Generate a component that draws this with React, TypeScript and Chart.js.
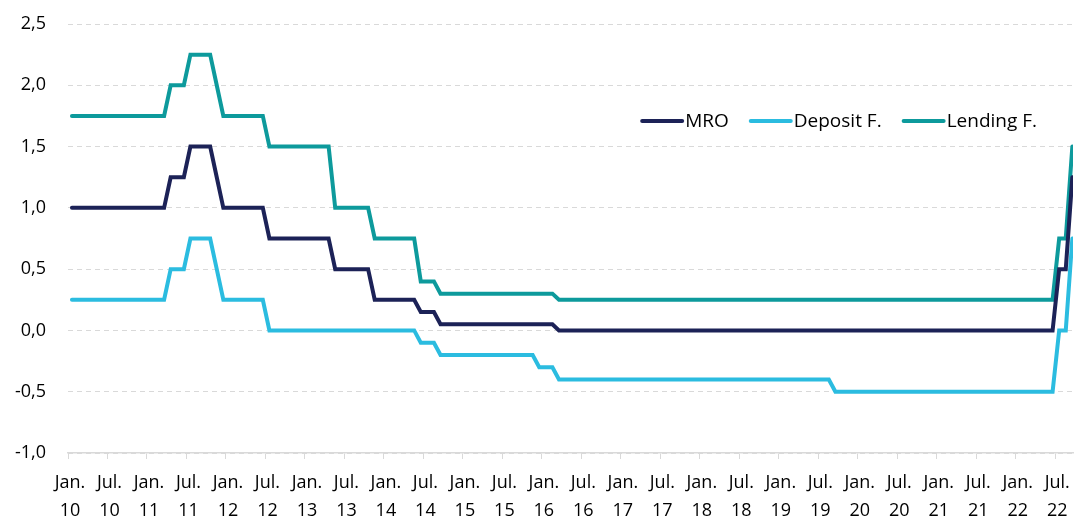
import React, { useEffect, useRef } from 'react';
import { Chart, registerables } from 'chart.js';
Chart.register(...registerables);

// x-axis tick labels (every 6 months, Jan. 2010 … Jul. 2022)
const tickLabels: string[][] = [
  ['Jan.', '10'], ['Jul.', '10'], ['Jan.', '11'], ['Jul.', '11'], ['Jan.', '12'], ['Jul.', '12'],
  ['Jan.', '13'], ['Jul.', '13'], ['Jan.', '14'], ['Jul.', '14'], ['Jan.', '15'], ['Jul.', '15'],
  ['Jan.', '16'], ['Jul.', '16'], ['Jan.', '17'], ['Jul.', '17'], ['Jan.', '18'], ['Jul.', '18'],
  ['Jan.', '19'], ['Jul.', '19'], ['Jan.', '20'], ['Jul.', '20'], ['Jan.', '21'], ['Jul.', '21'],
  ['Jan.', '22'], ['Jul.', '22'],
];

// Monthly values, Jan. 2010 … Sep. 2022 (one row per year)
const mro: number[] = [
  1, 1, 1, 1, 1, 1, 1, 1, 1, 1, 1, 1,
  1, 1, 1, 1.25, 1.25, 1.25, 1.5, 1.5, 1.5, 1.5, 1.25, 1,
  1, 1, 1, 1, 1, 1, 0.75, 0.75, 0.75, 0.75, 0.75, 0.75,
  0.75, 0.75, 0.75, 0.75, 0.5, 0.5, 0.5, 0.5, 0.5, 0.5, 0.25, 0.25,
  0.25, 0.25, 0.25, 0.25, 0.25, 0.15, 0.15, 0.15, 0.05, 0.05, 0.05, 0.05,
  0.05, 0.05, 0.05, 0.05, 0.05, 0.05, 0.05, 0.05, 0.05, 0.05, 0.05, 0.05,
  0.05, 0.05, 0, 0, 0, 0, 0, 0, 0, 0, 0, 0,
  0, 0, 0, 0, 0, 0, 0, 0, 0, 0, 0, 0,
  0, 0, 0, 0, 0, 0, 0, 0, 0, 0, 0, 0,
  0, 0, 0, 0, 0, 0, 0, 0, 0, 0, 0, 0,
  0, 0, 0, 0, 0, 0, 0, 0, 0, 0, 0, 0,
  0, 0, 0, 0, 0, 0, 0, 0, 0, 0, 0, 0,
  0, 0, 0, 0, 0, 0, 0.5, 0.5, 1.25,
];

const deposit: number[] = [
  0.25, 0.25, 0.25, 0.25, 0.25, 0.25, 0.25, 0.25, 0.25, 0.25, 0.25, 0.25,
  0.25, 0.25, 0.25, 0.5, 0.5, 0.5, 0.75, 0.75, 0.75, 0.75, 0.5, 0.25,
  0.25, 0.25, 0.25, 0.25, 0.25, 0.25, 0, 0, 0, 0, 0, 0,
  0, 0, 0, 0, 0, 0, 0, 0, 0, 0, 0, 0,
  0, 0, 0, 0, 0, -0.1, -0.1, -0.1, -0.2, -0.2, -0.2, -0.2,
  -0.2, -0.2, -0.2, -0.2, -0.2, -0.2, -0.2, -0.2, -0.2, -0.2, -0.2, -0.3,
  -0.3, -0.3, -0.4, -0.4, -0.4, -0.4, -0.4, -0.4, -0.4, -0.4, -0.4, -0.4,
  -0.4, -0.4, -0.4, -0.4, -0.4, -0.4, -0.4, -0.4, -0.4, -0.4, -0.4, -0.4,
  -0.4, -0.4, -0.4, -0.4, -0.4, -0.4, -0.4, -0.4, -0.4, -0.4, -0.4, -0.4,
  -0.4, -0.4, -0.4, -0.4, -0.4, -0.4, -0.4, -0.4, -0.5, -0.5, -0.5, -0.5,
  -0.5, -0.5, -0.5, -0.5, -0.5, -0.5, -0.5, -0.5, -0.5, -0.5, -0.5, -0.5,
  -0.5, -0.5, -0.5, -0.5, -0.5, -0.5, -0.5, -0.5, -0.5, -0.5, -0.5, -0.5,
  -0.5, -0.5, -0.5, -0.5, -0.5, -0.5, 0, 0, 0.75,
];

const lending: number[] = [
  1.75, 1.75, 1.75, 1.75, 1.75, 1.75, 1.75, 1.75, 1.75, 1.75, 1.75, 1.75,
  1.75, 1.75, 1.75, 2, 2, 2, 2.25, 2.25, 2.25, 2.25, 2, 1.75,
  1.75, 1.75, 1.75, 1.75, 1.75, 1.75, 1.5, 1.5, 1.5, 1.5, 1.5, 1.5,
  1.5, 1.5, 1.5, 1.5, 1, 1, 1, 1, 1, 1, 0.75, 0.75,
  0.75, 0.75, 0.75, 0.75, 0.75, 0.4, 0.4, 0.4, 0.3, 0.3, 0.3, 0.3,
  0.3, 0.3, 0.3, 0.3, 0.3, 0.3, 0.3, 0.3, 0.3, 0.3, 0.3, 0.3,
  0.3, 0.3, 0.25, 0.25, 0.25, 0.25, 0.25, 0.25, 0.25, 0.25, 0.25, 0.25,
  0.25, 0.25, 0.25, 0.25, 0.25, 0.25, 0.25, 0.25, 0.25, 0.25, 0.25, 0.25,
  0.25, 0.25, 0.25, 0.25, 0.25, 0.25, 0.25, 0.25, 0.25, 0.25, 0.25, 0.25,
  0.25, 0.25, 0.25, 0.25, 0.25, 0.25, 0.25, 0.25, 0.25, 0.25, 0.25, 0.25,
  0.25, 0.25, 0.25, 0.25, 0.25, 0.25, 0.25, 0.25, 0.25, 0.25, 0.25, 0.25,
  0.25, 0.25, 0.25, 0.25, 0.25, 0.25, 0.25, 0.25, 0.25, 0.25, 0.25, 0.25,
  0.25, 0.25, 0.25, 0.25, 0.25, 0.25, 0.75, 0.75, 1.5,
];

const seriesNames = ['MRO', 'Deposit F.', 'Lending F.'];
const seriesColors = ['#1c2257', '#2bbce0', '#0d9a9c'];

const FONT = '"Open Sans", Lato, sans-serif';

const insideLegend = {
  id: 'insideLegend',
  afterDatasetsDraw(chart: any) {
    const { ctx, chartArea } = chart;
    ctx.save();
    ctx.font = `19px ${FONT}`;
    const lineLen = 40;
    const gapText = 3;
    const gapItem = 22;
    const items = chart.data.datasets.map((d: any) => ({
      label: d.label as string,
      color: d.borderColor as string,
      w: ctx.measureText(d.label).width,
    }));
    const total =
      items.reduce((s: number, it: any) => s + lineLen + gapText + it.w, 0) + gapItem * (items.length - 1);
    let x = chartArea.right - 36 - total;
    const y = chartArea.top + 97;
    ctx.textBaseline = 'middle';
    ctx.textAlign = 'left';
    ctx.lineCap = 'round';
    for (const it of items) {
      ctx.strokeStyle = it.color;
      ctx.lineWidth = 4;
      ctx.beginPath();
      ctx.moveTo(x, y);
      ctx.lineTo(x + lineLen, y);
      ctx.stroke();
      x += lineLen + gapText;
      ctx.fillStyle = '#000';
      ctx.fillText(it.label, x, y + 1);
      x += it.w + gapItem;
    }
    ctx.restore();
  },
};

export default function App() {
  const ref = useRef<HTMLCanvasElement>(null);

  useEffect(() => {
    document.body.style.margin = '0';
    const canvas = ref.current!;
    const series = [mro, deposit, lending];
    const chart = new Chart(canvas, {
      type: 'line',
      data: {
        datasets: series.map((vals, k) => ({
          label: seriesNames[k],
          data: vals.map((v, i) => ({ x: i + 0.6, y: v })),
          borderColor: seriesColors[k],
          backgroundColor: seriesColors[k],
          borderWidth: 4,
          borderCapStyle: 'round' as const,
          borderJoinStyle: 'miter' as const,
          pointRadius: 0,
          tension: 0,
          fill: false,
        })),
      },
      options: {
        animation: false,
        responsive: false,
        devicePixelRatio: 1,
        layout: { padding: { top: 24, right: 11, left: 0, bottom: 0 } },
        plugins: { legend: { display: false }, tooltip: { enabled: false } },
        scales: {
          x: {
            type: 'linear',
            min: 0,
            max: 152.7,
            afterBuildTicks: (s: any) => {
              s.ticks = tickLabels.map((_, i) => ({ value: i * 6 }));
            },
            afterFit: (s: any) => {
              s.height = 65;
            },
            grid: {
              display: true,
              drawOnChartArea: false,
              drawTicks: true,
              tickLength: 6,
              color: '#d9d9d9',
              lineWidth: 1,
            },
            border: { display: true, color: '#d9d9d9', width: 1.5 },
            ticks: {
              autoSkip: false,
              maxRotation: 0,
              minRotation: 0,
              padding: 10,
              labelOffset: 2,
              color: '#000',
              font: { family: FONT, size: 18, lineHeight: 1.55 },
              callback: (v: any) => {
                const n = Number(v);
                const lab = tickLabels[Math.round(n / 6)];
                return lab ? lab : null;
              },
            },
          },
          y: {
            min: -1,
            max: 2.5,
            afterFit: (s: any) => {
              s.width = 68;
              s.paddingTop = 0;
              s.paddingBottom = 0;
            },
            grid: {
              color: '#d9d9d9',
              lineWidth: 1,
              drawTicks: false,
              tickLength: 0,
            },
            border: { display: false, dash: [5, 4] },
            ticks: {
              stepSize: 0.5,
              padding: 22,
              color: '#000',
              font: { family: FONT, size: 18 },
              callback: (v: any) => Number(v).toFixed(1).replace('.', ','),
            },
          },
        },
      },
      plugins: [insideLegend],
    });
    return () => chart.destroy();
  }, []);

  return (
    <div style={{ width: 1084, height: 518 }}>
      <canvas ref={ref} width={1084} height={518} style={{ display: 'block' }} />
    </div>
  );
}
